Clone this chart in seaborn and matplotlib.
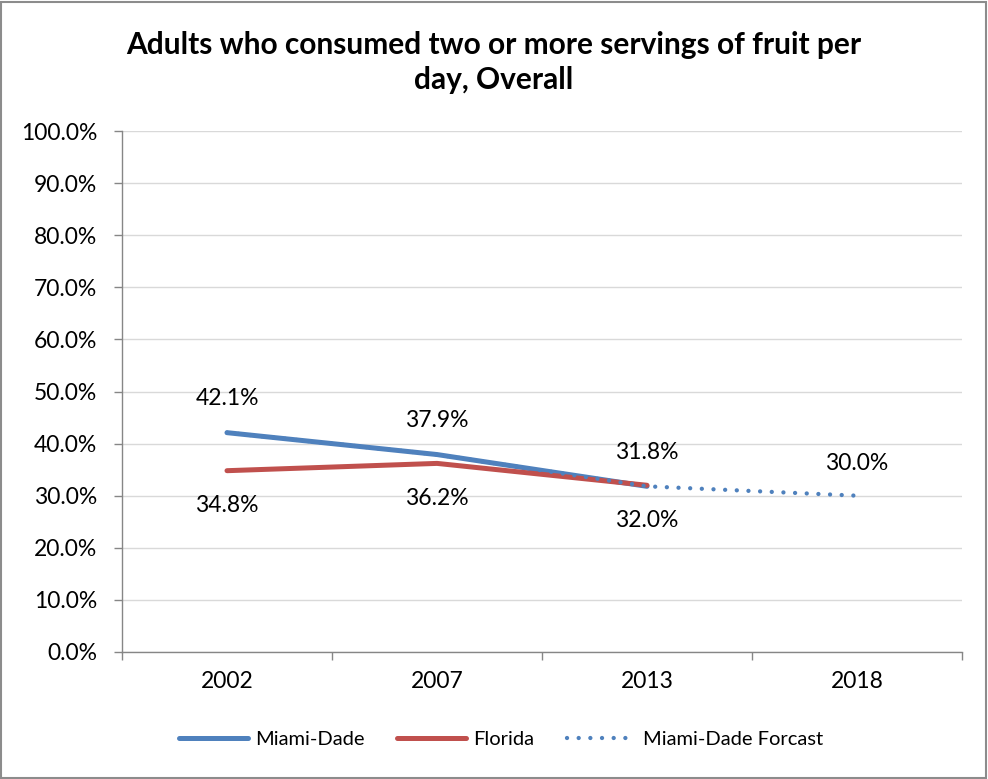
import matplotlib
matplotlib.use("Agg")
import matplotlib.pyplot as plt
import matplotlib.patches as mpatches
from matplotlib.ticker import FuncFormatter
import seaborn as sns
import pandas as pd

years = ["2002", "2007", "2013", "2018"]
miami_dade = [42.1, 37.9, 31.8]
florida = [34.8, 36.2, 32.0]
forecast = [42.1, 37.9, 31.8, 30.0]
y_ticks = [0, 10, 20, 30, 40, 50, 60, 70, 80, 90, 100]
title = "Adults who consumed two or more servings of fruit per\nday, Overall"

sns.set_theme(style="white")
plt.rcParams["font.family"] = ["Lato", "DejaVu Sans"]
plt.rcParams["text.color"] = "black"
plt.rcParams["xtick.color"] = "black"
plt.rcParams["ytick.color"] = "black"
plt.rcParams["lines.solid_capstyle"] = "round"
plt.rcParams["lines.dash_capstyle"] = "round"

df_md = pd.DataFrame({"year": years[:3], "value": miami_dade})
df_fl = pd.DataFrame({"year": years[:3], "value": florida})
df_fc = pd.DataFrame({"year": years, "value": forecast})

fig = plt.figure(figsize=(9.88, 7.79), dpi=100)
ax = fig.add_axes([122/988, 1-652/779, (962-122)/988, (652-131)/779])

blue = "#4F81BD"
red = "#C0504D"

sns.lineplot(data=df_md, x="year", y="value", ax=ax, color=blue, linewidth=3.6,
             label="Miami-Dade", sort=False)
sns.lineplot(data=df_fl, x="year", y="value", ax=ax, color=red, linewidth=3.6,
             label="Florida", sort=False)
sns.lineplot(data=df_fc, x="year", y="value", ax=ax, color=blue, linewidth=3.1,
             label="Miami-Dade Forcast", sort=False)
fc_line = ax.get_lines()[-1]
fc_line.set_linestyle((0, (0.01, 2.7)))
fc_line.set_dash_capstyle("round")

fs = 16.5
for i, v in enumerate(miami_dade):
    ax.annotate(f"{v:.1f}%", (i, v), xytext=(0, 24.5), textcoords="offset points",
                ha="center", va="center", fontsize=fs, color="black")
for i, v in enumerate(florida):
    ax.annotate(f"{v:.1f}%", (i, v), xytext=(0, -25), textcoords="offset points",
                ha="center", va="center", fontsize=fs, color="black")
ax.annotate(f"{forecast[3]:.1f}%", (3, forecast[3]), xytext=(0, 23.5), textcoords="offset points",
            ha="center", va="center", fontsize=fs, color="black")

ax.set_xlim(-0.5, 3.5)
ax.set_ylim(0, 100)
ax.set_yticks(y_ticks)
ax.yaxis.set_major_formatter(FuncFormatter(lambda v, p: f"{v:.1f}%"))
ax.set_xticks(range(len(years)))
ax.set_xticklabels(years)
ax.set_xticks([-0.5, 0.5, 1.5, 2.5, 3.5], minor=True)
ax.tick_params(axis="x", which="major", length=0, pad=14, labelsize=fs)
ax.tick_params(axis="x", which="minor", length=6, color="#868686", width=1, direction="out", bottom=True)
ax.tick_params(axis="y", length=6, color="#868686", width=1, direction="out", left=True,
               labelsize=fs, pad=12)
ax.set_xlabel("")
ax.set_ylabel("")
ax.grid(axis="y", color="#D9D9D9", linewidth=1)
ax.set_axisbelow(True)
for s in ["top", "right"]:
    ax.spines[s].set_visible(False)
for s in ["left", "bottom"]:
    ax.spines[s].set_color("#868686")
    ax.spines[s].set_linewidth(1)

fig.text(0.5, 1-62.5/779, title, ha="center", va="center", fontsize=21.5, fontweight="bold",
         linespacing=1.3)

handles, labels = ax.get_legend_handles_labels()
if ax.get_legend():
    ax.get_legend().remove()
leg = fig.legend(handles, labels, loc="center", bbox_to_anchor=(501/988, 1-739/779), ncol=3,
                 frameon=False, fontsize=14.5, handlelength=3.4, columnspacing=1.65,
                 handletextpad=0.35)

fig.patches.append(mpatches.Rectangle((0.001, 0.001), 0.997, 0.997, transform=fig.transFigure,
                                      fill=False, edgecolor="#8C8C8C", linewidth=1.5))

fig.savefig("out.png", dpi=100)
